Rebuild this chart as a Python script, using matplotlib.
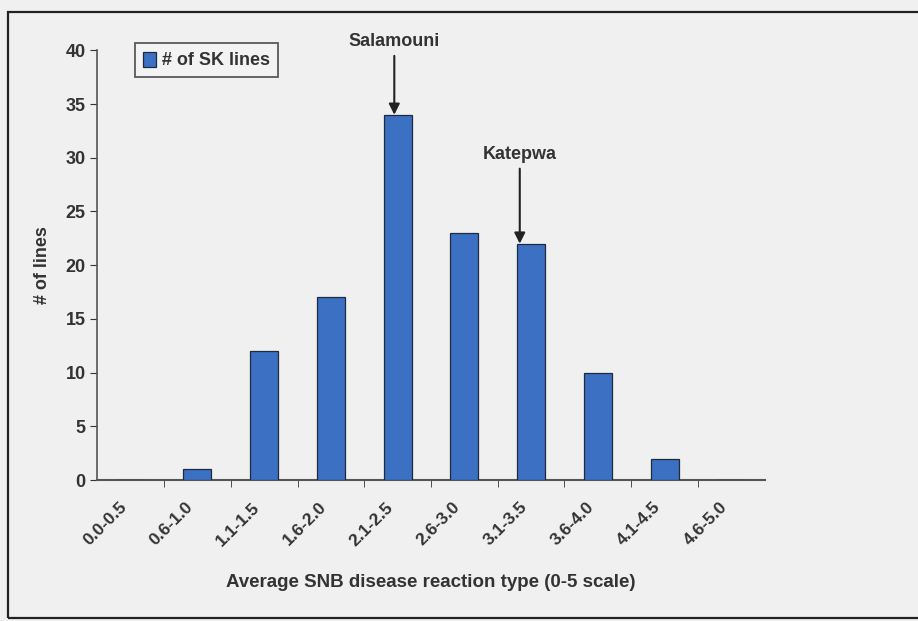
import numpy as np
import matplotlib.pyplot as plt
import matplotlib.transforms as mtransforms
from matplotlib.patches import Rectangle

plt.rcParams['font.family'] = ['Liberation Sans', 'DejaVu Sans']
plt.rcParams['font.weight'] = 'bold'

# SNB reaction-type bins and number of SK lines per bin
bins = ['0.0-0.5', '0.6-1.0', '1.1-1.5', '1.6-2.0', '2.1-2.5',
        '2.6-3.0', '3.1-3.5', '3.6-4.0', '4.1-4.5', '4.6-5.0']
n_lines = [0, 1, 12, 17, 34, 23, 22, 10, 2, 0]
checks = {'Salamouni': '2.1-2.5', 'Katepwa': '3.1-3.5'}

fig = plt.figure(figsize=(9.18, 6.21), dpi=100, facecolor='#f0f0f0')
ax = fig.add_axes([0.106, 0.227, 0.727, 0.692])
ax.set_facecolor('#f0f0f0')

# frame round the whole figure
fig.patches.append(Rectangle((0.009, 0.005), 1.2, 0.975, transform=fig.transFigure,
                             fill=False, edgecolor='#222222', linewidth=1.6))

x = np.arange(len(bins))
ax.bar(x, n_lines, width=0.42, color='#3b70c2', edgecolor='#1e2a40',
       linewidth=0.9, label='# of SK lines', zorder=3)

ax.set_xlim(-0.5, len(bins) - 0.5)
ax.set_ylim(0, 40)
ax.set_yticks(range(0, 41, 5))
ax.set_xticks(x)
ax.set_xticklabels(bins, rotation=45, ha='right', rotation_mode='anchor',
                   fontsize=12.5, fontweight='bold', color='#333333')
ax.tick_params(axis='x', length=0, pad=14)
# nudge the slanted labels left so they end just under each bar
shift = mtransforms.ScaledTranslation(-12 / 100, 0, fig.dpi_scale_trans)
for lbl in ax.get_xticklabels():
    lbl.set_transform(lbl.get_transform() + shift)
ax.set_xticks(x[1:] - 0.5, minor=True)
ax.tick_params(axis='x', which='minor', length=5, direction='out', color='#333333')
ax.tick_params(axis='y', length=5, labelsize=13, colors='#333333')
for lbl in ax.get_yticklabels():
    lbl.set_fontweight('bold')

for s in ['top', 'right']:
    ax.spines[s].set_visible(False)
ax.spines['left'].set_color('#555555')
ax.spines['bottom'].set_color('#555555')
ax.spines['left'].set_linewidth(1.2)
ax.spines['bottom'].set_linewidth(1.5)

ax.set_xlabel('Average SNB disease reaction type (0-5 scale)', fontsize=13.5,
              fontweight='bold', color='#333333', labelpad=18)
ax.set_ylabel('# of lines', fontsize=13, fontweight='bold', color='#333333',
              labelpad=10)

leg = ax.legend(loc='upper left', bbox_to_anchor=(0.057, 1.016), fontsize=13,
                frameon=True, fancybox=False, edgecolor='#333333',
                handlelength=0.7, handleheight=0.9, handletextpad=0.3,
                borderpad=0.45, borderaxespad=0)
leg.get_frame().set_linewidth(1.3)
leg.get_frame().set_facecolor('#f4f4f4')
for t in leg.get_texts():
    t.set_fontweight('bold')
    t.set_color('#333333')

# named checks pointed out with arrows
offsets = {'Salamouni': (-0.05, 6.0), 'Katepwa': (-0.17, 7.5)}
for name, b in checks.items():
    i = bins.index(b)
    h = n_lines[i]
    dx, dy = offsets[name]
    ax.annotate(name, xy=(i + dx, h), xytext=(i + dx, h + dy),
                ha='center', va='bottom', fontsize=13, fontweight='bold',
                color='#333333',
                arrowprops=dict(arrowstyle='-|>', color='#222222', lw=1.5,
                                mutation_scale=16, shrinkA=2, shrinkB=0))

fig.savefig('out.png', dpi=100, facecolor=fig.get_facecolor())
